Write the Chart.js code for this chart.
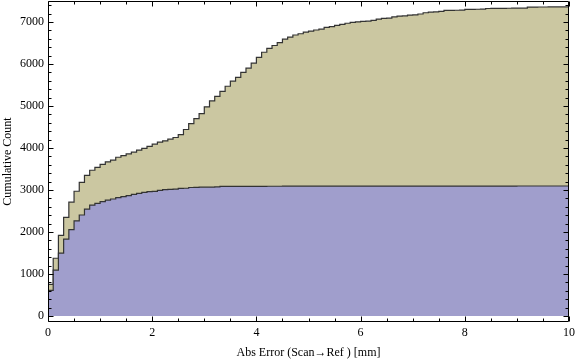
<!DOCTYPE html>
<html>
<head>
<meta charset="utf-8">
<script src="https://cdn.jsdelivr.net/npm/chart.js@4/dist/chart.umd.min.js"></script>
<style>
  html, body { margin: 0; padding: 0; background: #fff; }
  canvas { display: block; }
</style>
</head>
<body>
<canvas id="chart" width="576" height="362"></canvas>
<script>
// ================================
// Data: cumulative counts per 0.1 mm bin (0 .. 10 mm)
// ================================
const binWidth = 0.1;

// all points (tan area)
const totalCounts = [
  755, 1375, 1920, 2350, 2710, 2970, 3180, 3350, 3470, 3540,
  3610, 3670, 3710, 3780, 3820, 3860, 3900, 3950, 3990, 4040,
  4090, 4140, 4170, 4210, 4250, 4320, 4440, 4580, 4700, 4820,
  4980, 5120, 5230, 5350, 5470, 5590, 5680, 5800, 5900, 6020,
  6160, 6280, 6370, 6440, 6510, 6590, 6640, 6690, 6720, 6760,
  6785, 6810, 6830, 6870, 6890, 6920, 6945, 6970, 6990, 7005,
  7015, 7020, 7040, 7070, 7085, 7090, 7120, 7140, 7145, 7165,
  7170, 7190, 7220, 7235, 7240, 7255, 7275, 7278, 7280, 7282,
  7300, 7302, 7303, 7305, 7322, 7324, 7325, 7326, 7327, 7328,
  7329, 7330, 7355, 7356, 7357, 7357, 7358, 7358, 7358, 7359
];

// subset (blue area)
const subsetCounts = [
  610, 1090, 1495, 1830, 2055, 2265, 2405, 2545, 2640, 2680,
  2722, 2758, 2786, 2817, 2841, 2865, 2897, 2921, 2945, 2960,
  2968, 2992, 3010, 3016, 3020, 3040, 3042, 3060, 3064, 3066,
  3068, 3070, 3072, 3084, 3085, 3086, 3086, 3087, 3087, 3088,
  3088, 3088, 3089, 3089, 3089, 3090, 3090, 3090, 3090, 3091,
  3091, 3091, 3091, 3091, 3092, 3092, 3092, 3092, 3092, 3092,
  3093, 3093, 3093, 3093, 3093, 3093, 3093, 3093, 3093, 3093,
  3094, 3094, 3094, 3094, 3094, 3094, 3094, 3094, 3094, 3094,
  3094, 3094, 3094, 3094, 3094, 3094, 3094, 3094, 3094, 3094,
  3095, 3095, 3095, 3095, 3095, 3095, 3095, 3095, 3095, 3095
];

// tick positions
const xMajorTicks = [0, 2, 4, 6, 8, 10];
const xMinorTicks = [0.5, 1, 1.5, 2.5, 3, 3.5, 4.5, 5, 5.5, 6.5, 7, 7.5, 8.5, 9, 9.5];
const yMajorTicks = [0, 1000, 2000, 3000, 4000, 5000, 6000, 7000];
const yMinorTicks = [200, 400, 600, 800, 1200, 1400, 1600, 1800, 2200, 2400, 2600, 2800,
  3200, 3400, 3600, 3800, 4200, 4400, 4600, 4800, 5200, 5400, 5600, 5800,
  6200, 6400, 6600, 6800, 7200, 7400];

// turn a count list into step points (value holds until next bin edge)
function toSteps(counts) {
  const pts = counts.map((v, i) => ({ x: i * binWidth, y: v }));
  pts.push({ x: counts.length * binWidth, y: counts[counts.length - 1] });
  return pts;
}

const serif = "'Liberation Serif', 'Times New Roman', serif";

// ========================================================
// Frame with inward ticks on all four sides
// ========================================================
const frameTicks = {
  id: "frameTicks",
  afterDraw(chart) {
    const { ctx, chartArea: a, scales: { x, y } } = chart;
    ctx.save();
    ctx.strokeStyle = "#000";
    ctx.lineWidth = 1;
    const L = Math.round(a.left) + 0.5, R = Math.round(a.right) - 0.5;
    const T = Math.round(a.top) + 0.5, B = Math.round(a.bottom) - 0.5;
    ctx.beginPath();
    ctx.rect(L, T, R - L, B - T);

    const xTick = (v, len) => {
      const px = Math.round(x.getPixelForValue(v)) + 0.5;
      ctx.moveTo(px, B); ctx.lineTo(px, B - len);
      ctx.moveTo(px, T); ctx.lineTo(px, T + len);
    };
    const yTick = (v, len) => {
      const py = Math.round(y.getPixelForValue(v)) + 0.5;
      ctx.moveTo(L, py); ctx.lineTo(L + len, py);
      ctx.moveTo(R, py); ctx.lineTo(R - len, py);
    };
    xMajorTicks.forEach(v => xTick(v, 5));
    xMinorTicks.forEach(v => xTick(v, 3));
    yMajorTicks.forEach(v => yTick(v, 5));
    yMinorTicks.forEach(v => yTick(v, 3));
    ctx.stroke();
    ctx.restore();
  }
};

new Chart(document.getElementById("chart"), {
  type: "line",
  data: {
    datasets: [
      {
        label: "Subset",
        data: toSteps(subsetCounts),
        stepped: true,
        fill: "origin",
        backgroundColor: "rgb(160,158,204)",
        borderColor: "#333",
        borderWidth: 1.2,
        pointRadius: 0
      },
      {
        label: "All",
        data: toSteps(totalCounts),
        stepped: true,
        fill: "origin",
        backgroundColor: "rgb(203,199,161)",
        borderColor: "#333",
        borderWidth: 1.2,
        pointRadius: 0
      }
    ]
  },
  options: {
    responsive: false,
    animation: false,
    layout: { padding: { top: 1, right: 7, left: 0, bottom: 0 } },
    plugins: {
      legend: { display: false },
      tooltip: { enabled: false }
    },
    scales: {
      x: {
        type: "linear",
        min: 0,
        max: 10,
        afterBuildTicks: s => { s.ticks = xMajorTicks.map(v => ({ value: v })); },
        afterFit: s => {
          s.height = 40;
          s.paddingLeft = 0;
          s.paddingRight = 0;
        },
        grid: { display: false, drawTicks: false },
        border: { display: false },
        ticks: {
          font: { family: serif, size: 12 },
          color: "#000",
          padding: 4,
          maxRotation: 0,
          callback: v => String(v)
        },
        title: {
          display: true,
          text: "Abs Error (Scan\u2192Ref ) [mm]",
          font: { family: serif, size: 12 },
          color: "#000",
          padding: { top: 0, bottom: 2 }
        }
      },
      y: {
        type: "linear",
        min: -143,
        max: 7500,
        afterBuildTicks: s => { s.ticks = yMajorTicks.map(v => ({ value: v })); },
        afterFit: s => {
          s.width = 48;
          s.paddingTop = 0;
          s.paddingBottom = 0;
        },
        grid: { display: false, drawTicks: false },
        border: { display: false },
        ticks: {
          font: { family: serif, size: 12 },
          color: "#000",
          padding: 4,
          callback: v => String(v)
        },
        title: {
          display: true,
          text: "Cumulative Count",
          font: { family: serif, size: 12 },
          color: "#000",
          padding: { top: 1, bottom: 0 }
        }
      }
    }
  },
  plugins: [frameTicks]
});
</script>
</body>
</html>
